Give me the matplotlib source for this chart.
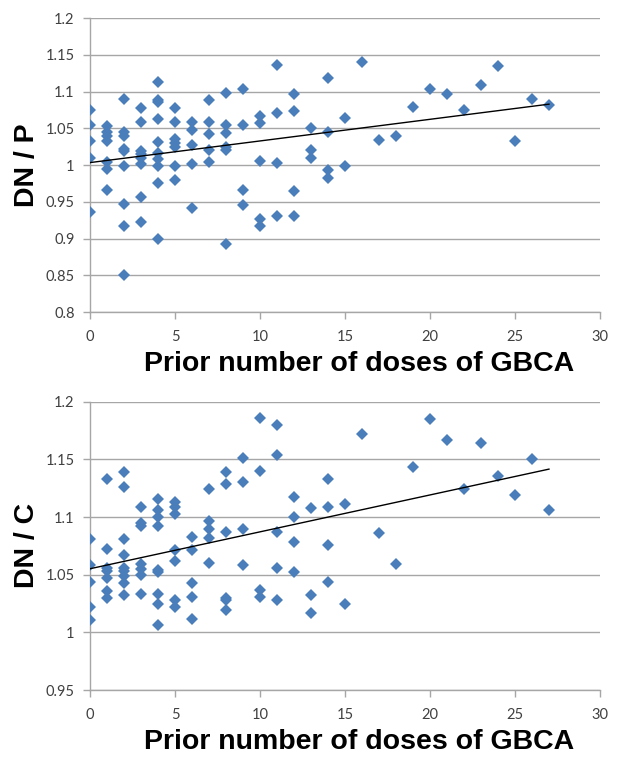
import numpy as np
import matplotlib
matplotlib.use('Agg')
import matplotlib.pyplot as plt

# values read per prior-dose count (0..27)
doses = list(range(28))

dn_p = [
    [1.075, 1.055, 1.033, 1.009, 0.936],
    [1.053, 1.045, 1.039, 1.033, 1.004, 0.994, 0.966],
    [1.090, 1.045, 1.039, 1.022, 1.019, 0.999, 0.947, 0.917, 0.850],
    [1.078, 1.058, 1.019, 1.015, 1.010, 1.001, 0.956, 0.923],
    [1.113, 1.089, 1.086, 1.063, 1.032, 1.017, 1.008, 0.999, 0.975, 0.900],
    [1.078, 1.059, 1.035, 1.030, 1.024, 0.999, 0.980],
    [1.059, 1.047, 1.027, 1.001, 0.941],
    [1.088, 1.058, 1.042, 1.020, 1.004],
    [1.098, 1.055, 1.043, 1.024, 1.020, 0.892],
    [1.103, 1.055, 0.966, 0.946],
    [1.067, 1.057, 1.005, 0.927, 0.917],
    [1.136, 1.071, 1.003, 0.930],
    [1.097, 1.073, 0.965, 0.930],
    [1.051, 1.020, 1.009],
    [1.118, 1.045, 0.993, 0.983],
    [1.064, 0.999],
    [1.140], [1.034], [1.039], [1.079], [1.103], [1.096],
    [1.075], [1.109], [1.135], [1.033], [1.090], [1.081],
]

dn_c = [
    [1.081, 1.058, 1.044, 1.022, 1.011],
    [1.133, 1.072, 1.056, 1.053, 1.047, 1.036, 1.030],
    [1.139, 1.126, 1.081, 1.067, 1.056, 1.053, 1.049, 1.043, 1.032],
    [1.109, 1.095, 1.092, 1.059, 1.055, 1.050, 1.033],
    [1.116, 1.106, 1.100, 1.092, 1.054, 1.052, 1.033, 1.025, 1.006],
    [1.113, 1.109, 1.103, 1.071, 1.062, 1.028, 1.022],
    [1.083, 1.071, 1.043, 1.031, 1.012],
    [1.124, 1.097, 1.090, 1.082, 1.060],
    [1.139, 1.129, 1.087, 1.030, 1.028, 1.019],
    [1.151, 1.130, 1.090, 1.058],
    [1.186, 1.140, 1.037, 1.031],
    [1.180, 1.154, 1.087, 1.056, 1.028],
    [1.117, 1.100, 1.078, 1.052],
    [1.108, 1.032, 1.017],
    [1.133, 1.109, 1.076, 1.044],
    [1.111, 1.025],
    [1.172], [1.086], [1.059], [1.143], [1.185], [1.167],
    [1.124], [1.164], [1.136], [1.119], [1.150], [1.106],
]

x_ticks = [0, 5, 10, 15, 20, 25, 30]
top_yticks = [0.8, 0.85, 0.9, 0.95, 1, 1.05, 1.1, 1.15, 1.2]
bot_yticks = [0.95, 1, 1.05, 1.1, 1.15, 1.2]

MARKER = '#4a7ebb'
GRID = '#a6a6a6'
TXT = '#404040'


def flatten(groups):
    xs, ys = [], []
    for d, vals in zip(doses, groups):
        xs += [d] * len(vals)
        ys += vals
    return np.array(xs), np.array(ys)


def tick_label(v):
    s = f"{v:.2f}".rstrip('0').rstrip('.')
    return s


def draw(ax, groups, yticks, ylabel, xlab_y):
    xs, ys = flatten(groups)
    ax.plot(xs, ys, linestyle='none', marker='D', ms=6.0, color=MARKER,
            markeredgewidth=0, zorder=3)
    # linear trend line, Excel style
    k, b = np.polyfit(xs, ys, 1)
    xl = np.array([0, xs.max()])
    ax.plot(xl, k * xl + b, color='black', lw=1.0, zorder=4)

    ax.set_xlim(0, 30)
    ax.set_ylim(yticks[0], yticks[-1])
    ax.set_xticks(x_ticks)
    ax.set_yticks(yticks)
    ax.set_yticklabels([tick_label(v) for v in yticks])
    ax.grid(axis='y', color=GRID, lw=1.0, zorder=0)
    ax.grid(axis='x', visible=False)
    for s in ['top', 'right']:
        ax.spines[s].set_visible(False)
    for s in ['left', 'bottom']:
        ax.spines[s].set_color(GRID)
        ax.spines[s].set_linewidth(1.0)
    ax.tick_params(axis='both', colors=GRID, length=5, width=1.0,
                   labelcolor=TXT, labelsize=10.5)
    ax.tick_params(axis='y', pad=6)
    ax.tick_params(axis='x', pad=8)
    for lab in ax.get_xticklabels() + ax.get_yticklabels():
        lab.set_fontfamily(['Lato', 'DejaVu Sans'])
    ax.set_ylabel(ylabel, fontsize=20.5, fontweight='bold', color='black',
                  family='Liberation Sans')
    ax.set_xlabel('Prior number of doses of GBCA', fontsize=20.5,
                  fontweight='bold', color='black', family='Liberation Sans')
    ax.yaxis.set_label_coords(-0.098, 0.5)
    ax.xaxis.set_label_coords(0.527, xlab_y)


fig = plt.figure(figsize=(6.27, 7.57), dpi=100)
ax1 = fig.add_axes([0.1435, 0.5878, 0.8134, 0.3884])
ax2 = fig.add_axes([0.1435, 0.0885, 0.8134, 0.3808])

draw(ax1, dn_p, top_yticks, 'DN / P', -0.134)
draw(ax2, dn_c, bot_yticks, 'DN / C', -0.137)

fig.savefig('out.png', dpi=100)
